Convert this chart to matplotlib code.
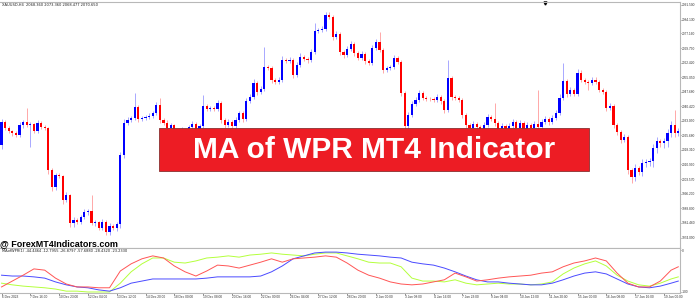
import matplotlib
matplotlib.use('Agg')
import matplotlib.pyplot as plt
from matplotlib.patches import Rectangle

# H4 gold candles (open = previous close)
first_open = 2020.8
closes = [
    2032.4, 2029.4, 2027.9, 2026.9, 2025.9, 2030.9, 2032.4, 2030.9, 2031.4, 2027.9,
    2031.9, 2029.9, 2029.4, 2008.2, 1999.6, 2005.7, 2005.2, 1993.1, 1995.6, 1981.5,
    1983.0, 1982.0, 1984.5, 1987.0, 1987.5, 1981.5, 1982.0, 1979.0, 1982.0, 1977.0,
    1980.0, 1979.0, 1981.0, 2015.8, 2031.9, 2033.4, 2034.4, 2040.0, 2033.9, 2034.4,
    2035.0, 2035.5, 2037.0, 2041.0, 2033.4, 2031.9, 2029.4, 2030.9, 2027.4, 2024.3,
    2028.4, 2025.9, 2029.9, 2031.4, 2028.4, 2030.4, 2040.5, 2039.0, 2039.5, 2039.0,
    2042.0, 2033.4, 2030.9, 2032.4, 2030.4, 2033.4, 2037.0, 2033.9, 2043.0, 2045.0,
    2052.1, 2047.6, 2049.1, 2060.2, 2059.7, 2053.6, 2052.6, 2053.6, 2063.7, 2063.2,
    2063.7, 2056.2, 2061.2, 2065.2, 2064.2, 2063.7, 2067.8, 2078.4, 2078.9, 2079.4,
    2086.4, 2085.4, 2075.3, 2076.8, 2067.8, 2066.2, 2069.3, 2071.8, 2067.3, 2064.7,
    2066.8, 2063.2, 2062.2, 2069.8, 2072.8, 2068.8, 2058.7, 2059.7, 2060.2, 2064.7,
    2062.7, 2047.1, 2030.4, 2036.0, 2041.5, 2043.5, 2047.1, 2044.5, 2044.0, 2043.8,
    2043.5, 2045.0, 2043.0, 2038.5, 2054.6, 2045.0, 2044.5, 2043.5, 2036.0, 2030.9,
    2029.4, 2031.4, 2029.9, 2028.4, 2030.9, 2035.0, 2033.9, 2031.9, 2028.4, 2030.4,
    2027.4, 2030.4, 2032.4, 2029.4, 2031.9, 2028.4, 2030.9, 2029.4, 2031.4, 2029.9,
    2032.4, 2033.9, 2032.4, 2034.4, 2037.0, 2044.5, 2053.1, 2046.6, 2048.6, 2046.6,
    2057.2, 2053.6, 2052.6, 2052.1, 2053.6, 2052.6, 2048.6, 2047.6, 2039.5, 2040.5,
    2030.9, 2027.4, 2023.3, 2024.9, 2008.2, 2004.7, 2009.2, 2007.2, 2011.7, 2012.2,
    2012.7, 2019.3, 2022.8, 2021.8, 2022.8, 2026.9, 2030.9, 2026.9, 2027.9,
]
upper_wick = [
    1.5, 1, 1, 0.5, 1, 1.5, 1, 7, 1, 0.5,
    1.5, 1, 1, 0.5, 1, 1, 1, 0.5, 1.5, 0.5,
    1.5, 1, 1, 1.5, 1, 8, 1, 0.5, 1.5, 1,
    1.5, 1, 1, 1.5, 2, 1.5, 1, 7, 1, 1,
    1, 1.5, 1, 1.5, 3.5, 1, 1.5, 1, 0.5, 1,
    1.5, 1, 1, 1.5, 1, 1, 5.5, 1, 1, 1,
    1.5, 1, 1, 1.5, 1, 1.5, 1, 1, 1.5, 1.5,
    2, 1, 1.5, 10, 1, 1, 1, 1.5, 2, 1,
    1.5, 1, 1.5, 2, 1, 1, 1.5, 4, 1, 1.5,
    1.5, 1.6, 1, 1.5, 1, 1, 1.5, 1.5, 1, 1,
    1.5, 1, 1, 1.5, 1.5, 5, 1, 1, 1, 1.5,
    1, 1, 1, 1.5, 1.5, 1.5, 1.5, 1, 1, 1,
    1, 1.5, 1, 1, 9, 1, 1, 1, 1, 1,
    1, 1.5, 1, 1, 1.5, 1.5, 1, 8, 1, 1.5,
    1, 1.5, 1.5, 1, 1.5, 1, 1.5, 1, 1.5, 17,
    1.5, 1.5, 1, 1.5, 1.5, 2, 9, 1, 1.5, 1,
    2, 1.5, 1, 1, 1.5, 1.5, 1, 1, 1, 1.5,
    1, 1, 1, 1.5, 1, 1, 2, 1, 2, 1.5,
    1.5, 2, 2, 1, 1.5, 2, 2, 7.5, 1.5,
]
lower_wick = [
    2, 1, 1, 1.5, 1, 1, 1.5, 1, 11, 1,
    1, 1, 1, 2, 2, 1.5, 1, 2, 1, 2,
    2, 1, 1, 1, 1.5, 1, 1.5, 1, 1, 1.5,
    1.6, 1, 1.5, 2, 1.5, 1, 1, 1, 1.5, 1,
    1, 1, 1, 1, 1.5, 1, 2, 1, 1.5, 2,
    1, 1.5, 1, 1, 1.5, 1, 1, 1, 1, 1,
    1, 1.5, 1.5, 1, 1, 1, 1, 1.5, 1, 1,
    1, 1.5, 1, 1, 1, 1.5, 1, 1, 1, 1,
    1, 1.5, 1, 1, 1, 1.5, 1, 1, 1, 1,
    1, 1, 1.5, 1, 1.5, 1.5, 1, 1, 1.5, 1,
    1, 1.5, 1, 1, 1, 1, 1.5, 1, 1, 1,
    1, 1.5, 2, 1.5, 1, 1, 1, 1, 1, 1,
    1, 1, 1.5, 1.5, 1, 1.5, 1, 1, 1.5, 1.5,
    1.5, 1, 1.5, 1.5, 1, 1, 1, 1.5, 1.5, 1,
    1.5, 1, 1, 1.5, 1, 1.5, 1, 1, 1, 1,
    1, 1, 1.5, 1, 1, 1, 1, 1.5, 1, 1,
    1, 1, 1, 3.5, 1, 1, 1, 1, 1.5, 1,
    1.5, 1.5, 1.5, 1, 2, 3, 2, 1.5, 2, 2,
    2, 3, 2.5, 2, 2.5, 3, 2, 2, 1.5,
]

price_ticks = [2091.5, 2084.13, 2077.16, 2069.75, 2062.42, 2055.05, 2047.68, 2040.42,
               2033.05, 2025.68, 2018.31, 2010.99, 2003.57, 1996.2, 1988.83, 1981.46, 1974.09]
date_labels = ["6 Dec 2023", "7 Dec 16:00", "10 Dec 23:00", "12 Dec 04:00", "13 Dec 12:00",
               "14 Dec 20:00", "18 Dec 00:00", "19 Dec 08:00", "20 Dec 16:00", "22 Dec 00:00",
               "26 Dec 04:00", "27 Dec 12:00", "28 Dec 20:00", "2 Jan 00:00", "3 Jan 08:00",
               "4 Jan 16:00", "7 Jan 23:00", "9 Jan 04:00", "10 Jan 12:00", "11 Jan 20:00",
               "15 Jan 00:00", "16 Jan 08:00", "17 Jan 16:00", "19 Jan 00:00"]

# MA of WPR lines, one reading every 3rd bar (plus the last bar)
ind_bars = list(range(0, 189, 3)) + [188]
wpr_red = [-88, -74, -60, -45, -48, -67, -81, -88, -88, -90,
           -90, -50, -33, -21, -14, -19, -38, -52, -62, -50,
           -36, -38, -43, -36, -29, -21, -29, -21, -19, -17,
           -14, -17, -31, -48, -60, -67, -76, -81, -83, -81,
           -76, -71, -55, -64, -74, -71, -67, -64, -62, -60,
           -55, -52, -40, -31, -26, -19, -26, -55, -79, -88,
           -88, -74, -48, -40]
wpr_green = [-79, -83, -86, -88, -90, -93, -98, -98, -100, -100,
             -100, -79, -52, -33, -19, -19, -29, -31, -26, -19,
             -17, -14, -17, -12, -10, -7, -10, -12, -14, -10,
             -7, -7, -14, -21, -29, -31, -31, -40, -67, -74,
             -74, -76, -71, -79, -83, -81, -79, -81, -81, -83,
             -81, -76, -57, -43, -33, -26, -38, -60, -74, -83,
             -86, -79, -69, -64]
wpr_blue = [-60, -62, -62, -64, -67, -76, -83, -88, -90, -95,
            -98, -90, -79, -74, -69, -69, -69, -69, -69, -67,
            -64, -64, -64, -64, -62, -52, -38, -21, -14, -7,
            -5, -5, -7, -10, -12, -14, -17, -19, -29, -33,
            -36, -43, -52, -62, -71, -76, -76, -79, -81, -83,
            -83, -79, -71, -62, -55, -52, -57, -69, -81, -88,
            -90, -86, -79, -74]

opens = [first_open] + closes[:-1]
bars = list(range(len(closes)))

fig = plt.figure(figsize=(6.96, 2.99), dpi=100)
fig.patch.set_facecolor('white')
ax = fig.add_axes([0, 0.1706, 0.977, 0.8227])
ax2 = fig.add_axes([0, 0.0201, 0.977, 0.1505], sharex=ax)

# candles
for i in bars:
    o, c = opens[i], closes[i]
    up = c >= o
    body_col = '#0000ff' if up else '#ff0000'
    wick_col = '#a8a8ff' if up else '#ffa8a8'
    top, bot = max(o, c), min(o, c)
    ax.vlines(i, bot - lower_wick[i], top + upper_wick[i], color=wick_col, lw=0.7, zorder=1)
    ax.bar(i, max(top - bot, 0.4), bottom=bot, width=0.62, color=body_col, lw=0, zorder=2)

small = dict(family='Liberation Sans', size=2.3)

ax.set_xlim(-0.42, 188.47)
ax.set_ylim(1968.8, 2093.0)
ax.yaxis.tick_right()
ax.set_yticks(price_ticks)
ax.set_yticklabels(['%.3f' % p for p in price_ticks], fontdict=small)
ax.tick_params(axis='y', length=0.8, width=0.4, pad=0.4, colors='#333333')
ax.tick_params(axis='x', bottom=False, labelbottom=False)

ax.text(0.003, 0.995, 'XAUUSD,H4  2068.360 2073.360 2068.477 2070.650', transform=ax.transAxes,
        fontsize=2.6, va='top', ha='left', color='#222222')
ax.plot([151], [2092.6], marker='v', color='black', markersize=2.2, clip_on=False)

# indicator panel
ax2.plot(ind_bars, wpr_green, color='#b4ff3c', lw=0.7)
ax2.plot(ind_bars, wpr_blue, color='#4a4aff', lw=0.7)
ax2.plot(ind_bars, wpr_red, color='#ff5555', lw=0.7)
ax2.set_ylim(-102.4, 4.8)
ax2.yaxis.tick_right()
ax2.set_yticks([0, -100])
ax2.set_yticklabels(['0', '-100'], fontdict=small)
ax2.tick_params(axis='y', length=0.8, width=0.4, pad=0.4, colors='#333333')
ax2.set_xticks(list(range(0, 185, 8)))
ax2.set_xticklabels(date_labels, ha='left', fontdict=small)
ax2.tick_params(axis='x', length=1.2, width=0.4, pad=0.6, colors='#333333')
ax2.text(0.003, 0.97, 'MAofWPR(1) -44.4464 -12.7955 -26.8797 -57.6880 -28.4320 -23.2330',
         transform=ax2.transAxes, fontsize=2.6, va='top', ha='left', color='#222222')

for a in (ax, ax2):
    for s in a.spines.values():
        s.set_color('#b8b8b8')
        s.set_linewidth(0.8)
    a.spines['left'].set_visible(False)

# banner and watermark
fig.patches.append(Rectangle((159 / 696, 1 - 171 / 299), 430 / 696, 43 / 299,
                             transform=fig.transFigure, facecolor='#ed1c24',
                             edgecolor='#8a3030', lw=0.6, zorder=5))
fig.text(374 / 696, 1 - 150 / 299, 'MA of WPR MT4 Indicator', color='white',
         fontsize=21.5, fontweight='bold', family='Liberation Sans',
         ha='center', va='center', zorder=6)
fig.text(0.0, 1 - 246.5 / 299, '@ ForexMT4Indicators.com', color='black',
         fontsize=6.5, fontweight='bold', family='Liberation Sans',
         ha='left', va='baseline', zorder=6)

fig.savefig('out.png', dpi=100, facecolor='white')
